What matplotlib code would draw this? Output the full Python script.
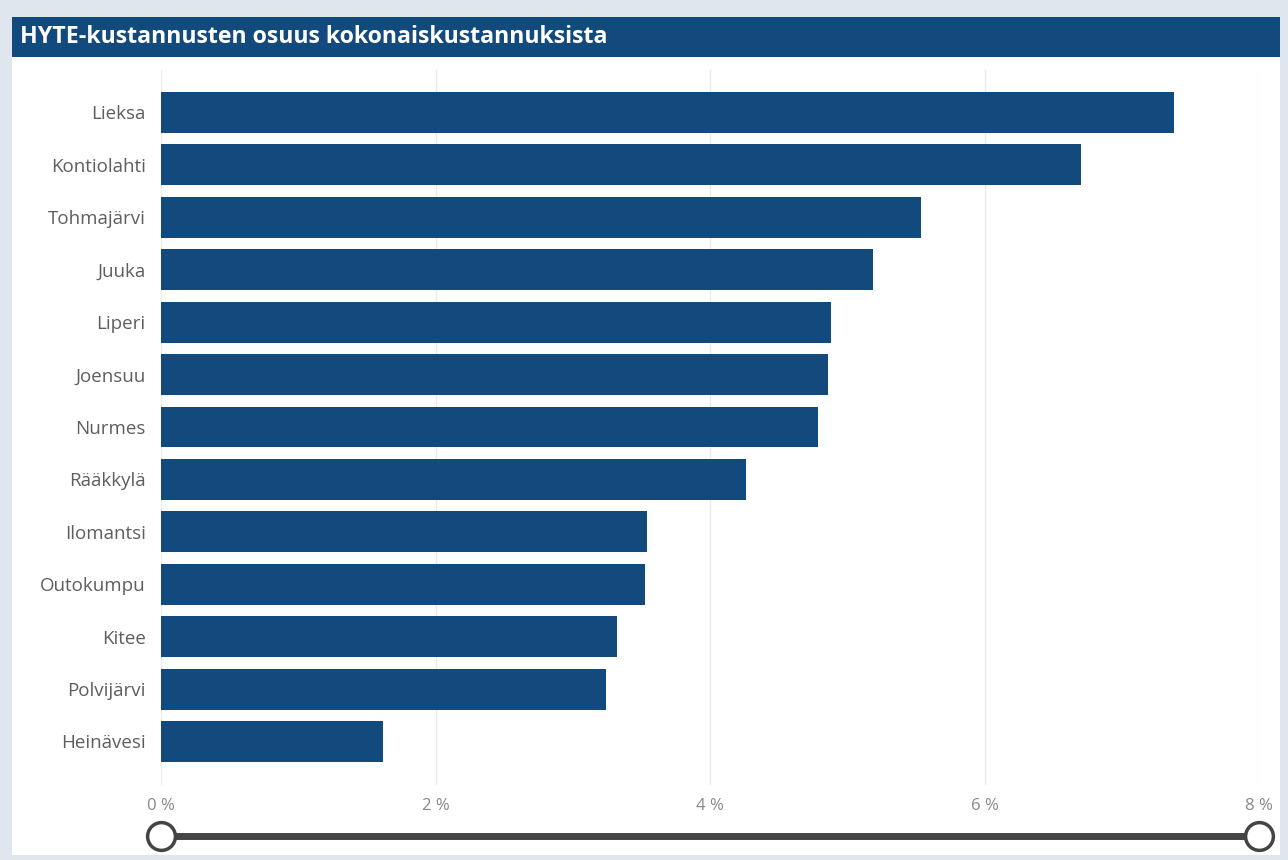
import matplotlib
matplotlib.use("Agg")
import matplotlib.pyplot as plt
from matplotlib.patches import Rectangle
from matplotlib.ticker import FuncFormatter

# =============================================================
# DATOS
# =============================================================
kunnat = ["Lieksa", "Kontiolahti", "Tohmajärvi", "Juuka", "Liperi", "Joensuu",
          "Nurmes", "Rääkkylä", "Ilomantsi", "Outokumpu", "Kitee", "Polvijärvi",
          "Heinävesi"]
osuus = [7.38, 6.70, 5.54, 5.19, 4.88, 4.86, 4.79, 4.26, 3.54, 3.53, 3.32, 3.24, 1.62]
x_ticks = [0, 2, 4, 6, 8]
otsikko = "HYTE-kustannusten osuus kokonaiskustannuksista"

BLUE = "#134a7e"
BG = "#dfe6ee"
W, H = 1288, 860

plt.rcParams["font.family"] = ["Open Sans", "DejaVu Sans"]

fig = plt.figure(figsize=(W / 100, H / 100), dpi=100)
fig.patch.set_facecolor(BG)

# panel blanco y barra de título (debajo de los ejes)
fig.patches.append(Rectangle((12 / W, 1 - 855 / H), 1268 / W, (855 - 57) / H,
                             transform=fig.transFigure, facecolor="white",
                             edgecolor="none", zorder=-2))
fig.patches.append(Rectangle((12 / W, 1 - 57 / H), 1268 / W, 40 / H,
                             transform=fig.transFigure, facecolor=BLUE,
                             edgecolor="none", zorder=-1))
fig.text(20 / W, 1 - 37 / H, otsikko, color="white", fontsize=16.7,
         fontweight="bold", va="center", ha="left")

# =============================================================
# GRÁFICO DE BARRAS
# =============================================================
ax = fig.add_axes([161 / W, 1 - 785 / H, 1098 / W, 715 / H])
ax.set_facecolor("none")
ypos = list(range(len(kunnat)))
ax.barh(ypos, osuus, height=0.78, color=BLUE, zorder=3)
ax.set_yticks(ypos)
ax.set_yticklabels(kunnat)
ax.set_ylim(len(kunnat) - 1 + 0.83, -0.81)
ax.set_xlim(0, 8)
ax.set_xticks(x_ticks)
ax.xaxis.set_major_formatter(FuncFormatter(lambda v, p: f"{v:.0f} %"))
ax.grid(axis="x", color="#ebebeb", linewidth=1, zorder=0)
ax.tick_params(axis="y", length=0, pad=11, labelsize=13.5, labelcolor="#605e5c")
ax.tick_params(axis="x", length=0, pad=9, labelsize=12, labelcolor="#8a8886")
for s in ax.spines.values():
    s.set_visible(False)

# =============================================================
# SLIDER INFERIOR
# =============================================================
sl = fig.add_axes([161 / W, 1 - 852 / H, 1098 / W, 32 / H])
sl.set_xlim(0, 8)
sl.set_ylim(-1, 1)
sl.axis("off")
sl.plot([0, 8], [0, 0], color="#444444", linewidth=5, solid_capstyle="butt", zorder=1)
sl.plot([0, 8], [0, 0], "o", markersize=20, markerfacecolor="white",
        markeredgecolor="#444444", markeredgewidth=2.5, zorder=2, clip_on=False)

plt.savefig("out.png", dpi=100, facecolor=fig.get_facecolor())
